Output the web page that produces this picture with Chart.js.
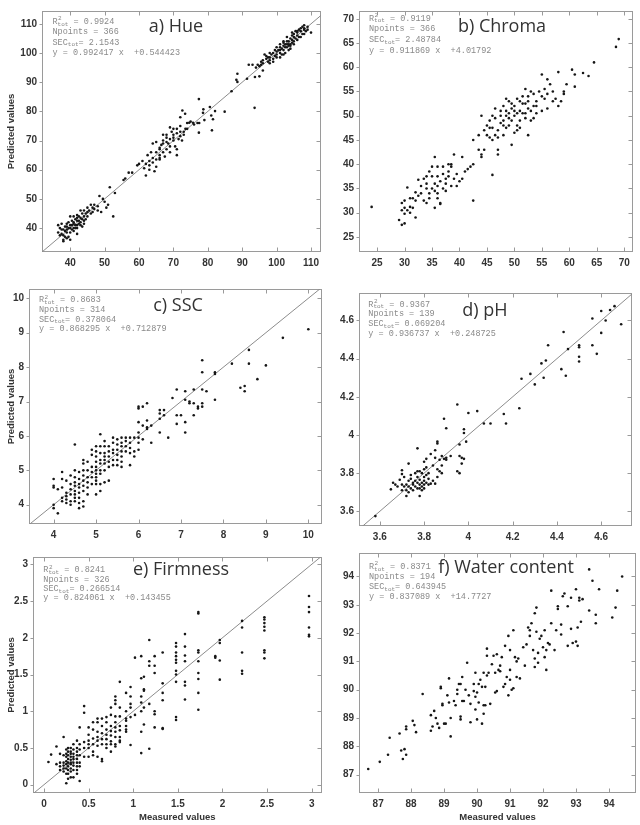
<!DOCTYPE html>
<html><head><meta charset="utf-8">
<script src="https://cdn.jsdelivr.net/npm/chart.js@4.4.1/dist/chart.umd.min.js"></script>
<style>
html,body{margin:0;padding:0;background:#fff;}
#wrap{position:relative;width:640px;height:825px;overflow:hidden;background:#fff}
#wrap canvas{position:absolute;left:0;top:0;}
</style></head><body>
<div id="wrap"></div>
<script>
// ---------- panel labels ----------
const panelTitles = ['a) Hue','b) Chroma','c) SSC','d) pH','e) Firmness','f) Water content'];
const statR2 = ['0.9924','0.9119','0.8683','0.9367','0.8241','0.8371'];
const statN = ['366','366','314','139','326','194'];
const statSEC = ['2.1543','2.48784','0.378064','0.069204','0.266514','0.643945'];
const statSlope = ['0.992417','0.911869','0.868295','0.936737','0.824061','0.837089'];
const statIcpt = ['+0.544423','+4.01792','+0.712879','+0.248725','+0.143455','+14.7727'];

// ---------- tick labels ----------
const hueTicks = [40,50,60,70,80,90,100,110];
const chromaTicks = [25,30,35,40,45,50,55,60,65,70];
const sscTicks = [4,5,6,7,8,9,10];
const phTicks = [3.6,3.8,4,4.2,4.4,4.6];
const firmTicks = [0,0.5,1,1.5,2,2.5,3];
const waterTicks = [87,88,89,90,91,92,93,94];

// ---------- data: [measured, predicted] ----------
const huePts = [
[107.5,109],[108,108],[107,107.5],[106,107],[105,106.5],[104,105],[104.5,106],[103,104],[103,103],[102.5,102],[102,103.5],[101,102],[101,101],[100,100.5],[99.5,101],[100,99.5],[99,100],[98,100],[97,99],[96.5,99.5],[97,98],[96,97.5],[97.5,97],[98,96.5],[95,95.5],[94.5,96],[95.5,96],[94,95],[93,96],[96,94],[95,92],[110,107],[109,108],[108,106.5],[106,106],[105,104],[104,103],[103.5,102.5],[102,101],[101,100],[100,102],[99,98],[98,98.5],[105,103],[106,104.5],[107,105.5],[104,101.5],[102.5,100],[101.5,99.5],[108.5,107.5],[103,105.5],[102,104],[106.5,108],[105.5,107.5],[104.5,103.5],[103.5,101],
[109,109],[108,108.5],[107.5,106.5],[106.5,105.5],[105.5,105],[104.5,104.5],[103.5,104],[102.5,103],[101.5,101.5],[100.5,101],[99.5,99],[98.5,99.5],[97.5,98.5],[96,96.5],[95.5,97],[103,102],[104,102.5],[102,102.5],[101,103],[105,105.5],[106,107.5],[107,108.5],[108,109.5],[100,98.5],[99,97],[98,97.5],[104.5,107],[103.5,103],[102,99.5],[101,98.5],
[88.6,92.9],[88.3,90.8],[88.6,90.1],[91.4,91.2],[86.9,86.9],[93.6,81.2],[91.9,96],[93.7,91.8],
[77.4,84.2],[77.4,72.7],[77.5,76],[78.6,79.5],[78.7,80.7],[80.6,81.5],[81.5,77.3],[81.2,73.5],[82.1,80.1],[84.9,79.9],[81,78.6],[79,77],[76,75.5],[75.7,76.1],[74.6,76.1],[74,74],[73,73],[72.6,80.3],[73.4,79.2],[72,78],[72,75],[71,74],[72,73],[72,71.5],[71,72.5],[70,71],[69,70.5],[69,74.5],[70,72],[68,71],[68,69.5],[67,69],[67,72],[66,67],[66,65],[66,64],[65,66],[65,63.5],[64,64],[64,62.5],[63,63],[63,60],[62,62],[62,58],[61,63],[60,62],[59.5,61.5],[58,59],[57,59],[56,57],[64,69],[65,69.5],[66,67.5],[67,66],[68,67],[69,68],[70,70],[71,65],[71,67],[70.5,68],[73,72],[74,76],[77,76],[75,76.5],[69.5,73],[68,72],[67,70],[65,61],[64.5,59.5],[62.5,65],[63.5,66],[73.5,74],[72.5,70],[70,74],[66,63.5],[67.5,64.5],[69,66],[71.5,70.5],[68.5,69],[66.5,68.5],[63,61.5],[61.5,60.5],
[36.5,41],[37,40],[37.5,38],[38,36],[38,37.5],[38.5,39],[39,40.5],[39,38.5],[39.5,37],[40,40],[40,41],[40.5,39.5],[41,42],[41,40],[41.5,43],[42,41],[42,42.5],[42.5,44],[43,42],[43,43.5],[43.5,40.5],[44,44],[44,42.5],[44.5,45],[45,44],[45.5,46],[46,45],[46.5,47],[47,46.5],[48,47.5],[48.5,51],[49,45.5],[49.5,50],[50,49],[51,48],[51.5,54],[52.5,44],[53,52],[55.5,56.5],[42,38],[43,46],[40,44],[38,35.5],[39,41.5],[41,44],[42.5,41.5],[44.5,43],[46,48],[47,48],[45,47],[40.5,42.5],[39.5,42],[37.5,41.5],[36.5,38.5],[42,40],[41,39],[43.5,45],[50.5,47],
[38,39.5],[38.5,40.5],[39,39.5],[39.5,40],[40,38.5],[40.5,41],[41,41.5],[41.5,41],[42,43.5],[42.5,42.5],[43,41],[43.5,43],[44,41.5],[38.5,37],[37.5,39.5],[37,37.5],[39,36.5],[40,36],[41.5,40],[42,44.5],[44,46],[45,45.5],[46.5,45.5],[48,46]
];

const chromaPts = [
[24,31.2],[29,28.5],[29.5,27.5],[30,27.8],[29.5,30.5],[30,31],[30,32.5],[29.5,32],[30.5,30.5],[31,30],[31,31.2],[30,29.8],[31,33],[30.5,35.2],[31.5,33],[32,29],[32,34.2],[32.5,36.8],[32.5,33.5],[33,34],[33.5,37],[34,32],[34,35],[34.5,33],[34,36],[34.5,38.5],[35,35],[35,39.5],[35.5,41.5],[35.5,31],[35.5,36],[36,35.5],[36,34],[36,37.5],[36,33],[36.5,32],[36.5,31.8],[37,35],[37,38],[37,39.5],[37.5,36],[38,38.5],[38,37.5],[38.5,35.5],[38.5,39.5],[39,42],[39,37],[39.5,38],[39.5,35.5],[40,36.5],[40.5,37],[40.5,41.5],[41,38.5],[41.5,39],[42,39.5],[42.5,32.5],[42.5,45],[42.5,40],[43.5,43],[43.5,46],[44,42],[44,41.5],[44,50],[44.5,43],[44.5,47],[45,46],[45,48],[45.5,49],[45.5,45.5],[46,47.5],[46,37.8],[46,45],[46.5,49.5],[46.5,51.5],[47,43],[47,42],[47,47],[47.5,48.5],[47.5,50],[48,52],[48,49],[48,46],[48.5,51],[48.5,47.5],[49,50.5],[49,53],[49,49.5],[49.5,44],[49.5,51.5],[50,46.5],[50,52],[50,50],[50.5,48],[50.5,53.5],[51,51],[51,49],[51.5,54],[51.5,50.5],[52,52.5],[52,55.5],[52,49.5],[52.5,46],[52.5,53],[52.5,51.5],[53,49],[53,55],[53.5,52],[53.5,49.5],[54,50.5],[54,53],[54.5,55],[55,51],[55,58.5],[55,54],[55.5,55.5],[55.5,53.5],[56,57.5],[56,54.5],[56,51.5],[56.5,56.5],[57,53],[57,55],[57.5,53.5],[58,59],[58,52],[58.5,53],[59,55],[59,54.5],[59.5,56.5],[60.5,59.5],[61,58.5],[61,56],[62.5,58.8],[63.5,58.2],[64.5,61],[68.5,64.2],[69,65.8],
[47.5,51],[48.5,50],[49.5,49],[50.5,50.5],[51.5,52.5],[50,51],[49,48],[51,53],[52,50.5],[53,51],[46.5,46],[48,48],[50.5,47],[52.5,54],[54,52],[47,45.5],[45.5,47.5],[46,50],[49.5,52.5],[48.5,53.5],[51,47.5],[53.5,54.5],
[33,35.5],[35,37.5],[36.5,36.5],[37.5,37],[38,40],[34.5,34],[35.5,34.5],[33.5,32.5],[31.5,31],[32,32.5],[37.5,34.5],[36,39.5],[38.5,40],[34,37.5]
];

// SSC: columns [measured, [predicted...]]
const sscCols = [
[4.0,[4.75,4.5,4.55,4.0,3.9]],[4.1,[3.75,4.45]],[4.2,[4.95,4.75,4.5,4.2,4.1]],[4.3,[4.7,4.35,4.25,4.15,4.05]],
[4.4,[4.85,4.6,4.45,4.3,4.1,4.0]],[4.5,[5.75,5.0,4.8,4.65,4.55,4.4,4.3,4.2,4.1]],[4.6,[4.95,4.75,4.6,4.5,4.35,4.2,4.05,3.9]],
[4.7,[5.3,5.2,5.0,4.85,4.7,4.55,4.4,4.1,3.95]],[4.8,[5.25,5.0,4.8,4.65,4.5,4.3]],[4.9,[5.6,5.45,5.1,4.95,4.8,4.6]],
[5.0,[5.7,5.55,5.4,5.25,5.1,5.0,4.9,4.8,4.7,4.6,4.3]],[5.1,[6.05,5.7,5.5,5.3,5.2,5.0,4.9,4.6,4.4]],[5.2,[5.85,5.7,5.5,5.4,5.3,5.2,5.0,4.65]],
[5.3,[5.7,5.55,5.4,5.25,5.1,4.7]],[5.4,[5.95,5.8,5.6,5.5,5.3,5.15]],[5.5,[5.9,5.75,5.6,5.45,5.3,5.15]],[5.6,[5.95,5.8,5.7,5.55,5.4,5.25,5.1]],
[5.7,[5.95,5.85,5.7,5.55]],[5.8,[5.95,5.8,5.65,5.5,5.15]],[5.9,[5.95,5.55,5.4]],[6.0,[6.8,6.85,6.4,6.1,5.95,5.8,5.6]],
[6.1,[6.85,6.3,5.9]],[6.2,[6.95,6.45,6.25,6.2]],[6.3,[6.3,5.8]],[6.5,[6.75,6.65,6.5,6.1]],[6.6,[6.75,6.6]],[6.7,[5.95]],
[6.8,[7.1]],[6.9,[7.35,6.6,6.35]],[7.0,[6.6]],[7.1,[7.3,7.05,6.4,6.1]],[7.2,[7.0,6.95]],[7.3,[7.35,6.95,6.6]],[7.4,[6.8,6.85]],
[7.5,[8.2,7.85,7.35,6.95,6.85]],[7.6,[7.3]],[7.8,[7.85,7.8,7.05]],[8.2,[8.1]],[8.4,[7.4]],[8.5,[7.45,7.3]],[8.6,[8.5,8.1]],
[8.8,[7.65]],[9.0,[8.05]],[9.4,[8.85]],[10.0,[9.1]]
];

const phPts = [
[3.58,3.575],[3.65,3.715],[3.66,3.75],[3.67,3.74],[3.68,3.73],[3.69,3.765],[3.7,3.815],[3.7,3.795],[3.7,3.71],[3.71,3.78],[3.72,3.74],[3.72,3.71],[3.72,3.68],[3.73,3.85],[3.73,3.76],[3.73,3.7],[3.74,3.77],[3.74,3.72],[3.75,3.75],[3.75,3.74],[3.76,3.8],[3.76,3.73],[3.77,3.93],[3.77,3.81],[3.77,3.78],[3.77,3.75],[3.78,3.81],[3.78,3.765],[3.78,3.72],[3.78,3.68],[3.79,3.8],[3.79,3.75],[3.79,3.73],[3.8,3.86],[3.8,3.82],[3.8,3.78],[3.8,3.76],[3.8,3.72],[3.81,3.875],[3.81,3.83],[3.81,3.75],[3.82,3.77],[3.82,3.74],[3.83,3.9],[3.84,3.84],[3.84,3.76],[3.85,3.92],[3.85,3.745],[3.86,3.965],[3.86,3.955],[3.86,3.82],[3.87,3.81],[3.87,3.87],[3.88,3.89],[3.88,3.84],[3.88,3.8],[3.89,4.085],[3.89,3.875],[3.9,4.035],[3.9,3.88],[3.92,3.89],[3.95,4.16],[3.95,3.81],[3.96,3.8],[3.96,3.95],[3.96,3.89],[3.97,3.88],[3.97,3.85],[3.98,4.03],[3.98,4.01],[3.98,3.875],[3.99,3.965],[4.0,4.115],[4.04,4.125],[4.07,4.06],[4.1,4.06],[4.16,4.11],[4.17,4.06],[4.23,4.14],[4.24,4.295],[4.28,4.32],[4.3,4.265],[4.33,4.375],[4.34,4.3],[4.35,4.39],[4.36,4.47],[4.42,4.345],[4.43,4.54],[4.44,4.31],[4.45,4.45],[4.5,4.47],[4.5,4.46],[4.5,4.41],[4.5,4.385],[4.56,4.61],[4.56,4.47],[4.58,4.425],[4.6,4.65],[4.6,4.535],[4.62,4.6],[4.64,4.655],[4.66,4.675],[4.69,4.58],
[3.71,3.73],[3.74,3.79],[3.76,3.76],[3.79,3.71],[3.81,3.79],[3.83,3.745],[3.75,3.71],[3.78,3.74],[3.8,3.74],[3.82,3.8],[3.86,3.78],[3.77,3.72],[3.7,3.74],[3.73,3.73],[3.9,3.87],[3.85,3.88]
];

// Firmness: columns [measured, [predicted...]]
const firmCols = [
[2.97,[2.57,2.42,2.35,2.14,2.04,2.02]],[2.47,[2.28,2.25,2.2,2.15,2.1,1.83,1.8,1.72]],[2.22,[2.23,2.14,1.8,1.55,1.51]],
[1.97,[1.97,1.93,1.69,1.43]],[1.92,[1.75,1.73]],[1.73,[2.35,2.33,1.83,1.8,1.68,1.52,1.44,1.25,1.02]],
[1.58,[2.05,1.88,1.76,1.68,1.4,1.35,1.16]],[1.48,[1.93,1.88,1.8,1.75,1.7,1.66,1.55,1.5,1.4,0.92,0.88]],
[1.33,[1.8,1.38,1.25,1.15,0.77,0.76]],[1.24,[1.75,1.62,1.52,1.0,0.96,0.78]],[1.18,[1.97,1.68,1.62,1.1,0.49]],
[1.12,[1.47,1.3,1.28,1.05,0.82]],[1.09,[1.75,1.45,1.2,1.12,1.0,0.72,0.43]],[1.02,[1.73,0.95]],
[0.97,[1.33,1.2,1.1,1.05,0.92,0.54]],[0.92,[1.25,1.0,0.9,0.87,0.8,0.75,0.72]],[0.85,[1.4,1.05,0.93,0.8,0.74,0.65,0.58,0.6]],
[0.8,[1.2,1.15,1.1,0.93,0.85,0.78,0.72,0.65,0.55,0.52]],[0.75,[1.05,0.95,0.8,0.73,0.67,0.59,0.55,0.45]],
[0.7,[0.92,0.85,0.75,0.68,0.62,0.55,0.5]],[0.65,[0.9,0.8,0.7,0.62,0.55,0.35,0.32]],[0.6,[0.9,0.85,0.72,0.65,0.6,0.53,0.38]],
[0.55,[0.85,0.75,0.63,0.55,0.45,0.4]],[0.5,[0.78,0.68,0.6,0.55,0.5,0.38]],[0.45,[1.07,0.98,0.58,0.5,0.38]],
[0.4,[0.78,0.55,0.48,0.4,0.3,0.25,0.05]],[0.37,[0.6,0.5,0.45,0.4,0.35,0.3,0.25,0.2,0.15]],
[0.33,[0.55,0.48,0.42,0.38,0.35,0.3,0.26,0.2,0.1]],[0.3,[0.5,0.45,0.42,0.38,0.34,0.3,0.28,0.22,0.18,0.1]],
[0.27,[0.5,0.45,0.4,0.35,0.3,0.25,0.2,0.15,0.08]],[0.25,[0.48,0.42,0.38,0.32,0.28,0.22,0.15,0.02]],
[0.22,[0.65,0.4,0.3,0.26,0.22,0.18]],[0.18,[0.42,0.3,0.25,0.2]],[0.14,[0.52,0.28]],[0.08,[0.41]],[0.05,[0.31]]
];

const waterPts = [
[86.7,87.2],[87.05,87.45],[87.3,87.7],[87.35,88.3],[87.65,88.45],[87.7,87.85],[87.75,87.55],[87.8,87.9],[87.85,87.7],[87.85,88.6],[87.85,88.7],[88.05,88.9],[88.1,88.75],[88.15,88.5],[88.35,89.85],[88.6,89.1],[88.6,88.55],[88.65,88.7],[88.7,89.25],[88.75,89.0],[88.8,88.8],[88.85,88.65],[88.9,90.05],[88.9,90.1],[88.95,89.45],[88.95,89.5],[89.0,88.8],[89.05,88.8],[89.1,89.8],[89.15,89.55],[89.15,90.4],[89.2,89.0],[89.2,88.35],[89.3,89.6],[89.35,89.45],[89.4,89.85],[89.4,90.0],[89.45,90.2],[89.5,90.2],[89.5,89.05],[89.5,88.95],[89.55,89.6],[89.55,90.45],[89.6,89.6],[89.65,90.0],[89.7,90.95],[89.75,89.8],[89.8,89.5],[89.8,88.85],[89.9,89.95],[89.9,90.2],[89.95,90.6],[89.95,89.75],[89.95,89.3],[90.0,89.9],[90.0,88.95],[90.05,89.55],[90.05,90.2],[90.1,90.35],[90.15,90.1],[90.15,88.8],[90.2,90.6],[90.2,89.45],[90.2,89.15],[90.25,89.45],[90.25,90.1],[90.3,91.2],[90.3,91.45],[90.3,90.5],[90.35,90.6],[90.4,89.5],[90.45,90.9],[90.5,91.2],[90.55,90.6],[90.55,89.9],[90.6,91.25],[90.6,89.95],[90.65,90.7],[90.7,90.65],[90.7,90.85],[90.75,91.15],[90.8,90.1],[90.85,91.55],[90.85,90.2],[90.9,90.45],[90.95,89.8],[90.95,91.9],[91.0,91.4],[91.0,90.7],[91.0,90.35],[91.05,90.0],[91.1,90.05],[91.1,92.1],[91.15,91.15],[91.2,91.0],[91.2,90.45],[91.25,91.1],[91.3,90.4],[91.4,91.5],[91.45,90.85],[91.5,91.6],[91.55,92.2],[91.6,92.1],[91.6,91.9],[91.65,92.35],[91.7,91.4],[91.75,91.1],[91.75,90.8],[91.75,92.7],[91.8,92.9],[91.8,92.05],[91.85,90.95],[91.85,91.3],[91.9,91.8],[91.95,91.9],[92.0,91.5],[92.05,91.15],[92.05,92.1],[92.1,91.4],[92.1,90.7],[92.15,91.65],[92.2,91.6],[92.25,92.35],[92.25,93.5],[92.35,91.4],[92.4,92.1],[92.45,92.95],[92.45,92.85],[92.55,91.95],[92.55,92.3],[92.6,93.3],[92.65,93.4],[92.75,92.95],[92.75,91.55],[92.85,93.25],[92.85,92.15],[92.9,91.65],[93.0,93.55],[93.0,91.7],[93.05,92.2],[93.05,91.55],[93.1,93.25],[93.1,93.15],[93.15,92.4],[93.2,93.2],[93.4,92.8],[93.4,94.25],[93.5,93.85],[93.6,92.65],[93.6,92.35],[93.7,93.55],[94.1,92.55],[94.2,92.9],[94.25,93.5],[94.4,94.0]
];

// ---------- helpers ----------
const flatten = cols => cols.flatMap(([x, ys]) => ys.map(y => [x, y]));
const SANS = '"Liberation Sans", Arial, sans-serif';
const MONO = '"Liberation Mono", "DejaVu Sans Mono", monospace';
const TITLEF = '"Open Sans", "Noto Sans", sans-serif';

const panels = [
 {i:0, pts:huePts, xt:hueTicks, xr:[31.8,112.9], yr:[31.8,114.4], area:[42,9,321,252], diag:true,
  tpos:[176,27], spos:[52.5,21.7], lh:10.3, ytitle:true, xtitle:false},
 {i:1, pts:chromaPts, xt:chromaTicks, xr:[21.7,71.6], yr:[21.9,71.6], area:[359,7,633,252], diag:false,
  tpos:[502,27], spos:[369,18.3], lh:10.8, ytitle:false, xtitle:false},
 {i:2, pts:flatten(sscCols), xt:sscTicks, xr:[3.42,10.31], yr:[3.44,10.27], area:[29,289,321.5,524], diag:true,
  tpos:[178,306], spos:[39,300], lh:9.7, ytitle:true, xtitle:false},
 {i:3, pts:phPts, xt:phTicks, xr:[3.506,4.739], yr:[3.523,4.744], area:[359,293,632,526], diag:true,
  tpos:[485,311], spos:[368.3,304.3], lh:9.9, ytitle:false, xtitle:false},
 {i:4, pts:flatten(firmCols), xt:firmTicks, xr:[-0.123,3.11], yr:[-0.113,3.1], area:[33,557,321.5,793], diag:true,
  tpos:[181,570], spos:[43.3,570], lh:9.3, ytitle:true, xtitle:true},
 {i:5, pts:waterPts, xt:waterTicks, xr:[86.42,94.82], yr:[86.35,94.83], area:[359,553,636,793], diag:false,
  tpos:[506,568], spos:[369,566.7], lh:10, ytitle:false, xtitle:true}
];

function drawStats(ctx, i, x0, y0, lh){
  ctx.fillStyle = '#8a8a8a';
  ctx.textBaseline = 'middle';
  ctx.textAlign = 'left';
  const big = '8.5px ' + MONO, small = '6px ' + MONO;
  let x = x0, y = y0;
  ctx.font = big; ctx.fillText('R', x, y); x += ctx.measureText('R').width;
  ctx.font = small; ctx.fillText('2', x + 0.5, y - 3); ctx.fillText('tot', x, y + 2.5); x += ctx.measureText('tot').width;
  ctx.font = big; ctx.fillText(' = ' + statR2[i], x, y);
  ctx.fillText('Npoints = ' + statN[i], x0, y0 + lh);
  x = x0; y = y0 + 2 * lh;
  ctx.fillText('SEC', x, y); x += ctx.measureText('SEC').width;
  ctx.font = small; ctx.fillText('tot', x, y + 2.5); x += ctx.measureText('tot').width;
  ctx.font = big; ctx.fillText('= ' + statSEC[i], x, y);
  ctx.fillText('y = ' + statSlope[i] + ' x  ' + statIcpt[i], x0, y0 + 3 * lh);
}

function decoPlugin(p){
  return {
    id: 'deco' + p.i,
    beforeDatasetsDraw(chart){
      const {ctx, chartArea:a, scales:{x, y}} = chart;
      ctx.save();
      ctx.strokeStyle = '#9a9a9a'; ctx.lineWidth = 1;
      const l = Math.round(a.left) + 0.5, t = Math.round(a.top) + 0.5,
            r = Math.round(a.right) - 0.5, b = Math.round(a.bottom) - 0.5;
      ctx.strokeRect(l, t, r - l, b - t);
      ctx.beginPath();
      x.ticks.forEach(tk => {
        const px = Math.round(x.getPixelForValue(tk.value)) + 0.5;
        ctx.moveTo(px, b); ctx.lineTo(px, b - 4);
        ctx.moveTo(px, t); ctx.lineTo(px, t + 4);
      });
      y.ticks.forEach(tk => {
        const py = Math.round(y.getPixelForValue(tk.value)) + 0.5;
        ctx.moveTo(l, py); ctx.lineTo(l - 3, py);
        ctx.moveTo(r, py); ctx.lineTo(r - 4, py);
      });
      ctx.stroke();
      ctx.restore();
    },
    afterDatasetsDraw(chart){
      const ctx = chart.ctx;
      ctx.save();
      ctx.fillStyle = '#333';
      ctx.font = '18px ' + TITLEF;
      ctx.textAlign = 'center'; ctx.textBaseline = 'middle';
      ctx.fillText(panelTitles[p.i], p.tpos[0], p.tpos[1]);
      drawStats(ctx, p.i, p.spos[0], p.spos[1], p.lh);
      ctx.restore();
    }
  };
}

const wrap = document.getElementById('wrap');
panels.forEach(p => {
  const c = document.createElement('canvas');
  c.width = 640; c.height = 825;
  c.style.width = '640px'; c.style.height = '825px';
  wrap.appendChild(c);
  const [L, T, R, B] = p.area;
  const yw = p.ytitle ? L - 2 : 30;
  const xh = p.xtitle ? 825 - B : 20;
  const datasets = [{
    data: p.pts.map(([x, y]) => ({x, y})),
    pointRadius: 1.3, pointHoverRadius: 1.3,
    backgroundColor: '#161616', borderColor: '#161616', pointBorderWidth: 0, showLine: false
  }];
  if (p.diag) {
    const lo = Math.min(p.xr[0], p.yr[0]), hi = Math.max(p.xr[1], p.yr[1]);
    datasets.push({data: [{x: lo, y: lo}, {x: hi, y: hi}], showLine: true, pointRadius: 0,
      borderColor: '#8c8c8c', borderWidth: 1, clip: 0});
  }
  const tickFont = {family: SANS, size: 10, weight: 'bold'};
  const titleFont = {family: SANS, size: 9.5, weight: 'bold'};
  new Chart(c, {
    type: 'scatter',
    data: {datasets},
    options: {
      responsive: false, animation: false, devicePixelRatio: 1,
      events: [],
      layout: {padding: {left: L - yw, top: T, right: 640 - R, bottom: 825 - B - xh}},
      plugins: {legend: {display: false}, tooltip: {enabled: false}},
      scales: {
        x: {
          type: 'linear', position: 'bottom', min: p.xr[0], max: p.xr[1],
          afterBuildTicks: s => { s.ticks = p.xt.map(v => ({value: v})); },
          afterFit: s => { s.height = xh; },
          grid: {display: false, drawTicks: false}, border: {display: false},
          ticks: {font: tickFont, color: '#333', padding: 5, maxRotation: 0, autoSkip: false, callback: v => String(v)},
          title: {display: p.xtitle, text: 'Measured values', font: titleFont, color: '#333', padding: {top: 0, bottom: 1.6}}
        },
        y: {
          type: 'linear', position: 'left', min: p.yr[0], max: p.yr[1],
          afterBuildTicks: s => { s.ticks = p.xt.map(v => ({value: v})); },
          afterFit: s => { s.width = yw; },
          grid: {display: false, drawTicks: false}, border: {display: false},
          ticks: {font: tickFont, color: '#333', padding: 5, autoSkip: false, callback: v => String(v)},
          title: {display: p.ytitle, text: 'Predicted values', font: titleFont, color: '#333', padding: {top: 4, bottom: 0}}
        }
      }
    },
    plugins: [decoPlugin(p)]
  });
});
</script>
</body></html>
